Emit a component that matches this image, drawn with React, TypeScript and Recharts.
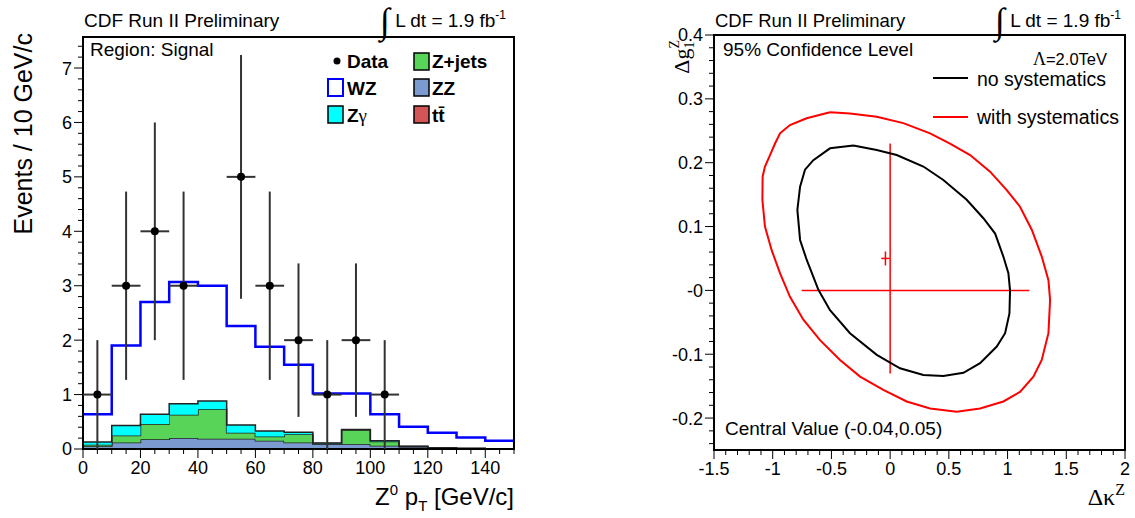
import React from 'react';
import {
  ComposedChart,
  Area,
  Scatter,
  ErrorBar,
  XAxis,
  YAxis,
  ReferenceArea,
  ReferenceLine,
} from 'recharts';

const FONT = '"Liberation Sans", Arial, Helvetica, sans-serif';
const SERIF = '"Liberation Serif", "Times New Roman", serif';

// ---- left panel: Z0 pT, 10 GeV/c bins (stacked MC, bottom to top) ----
const binEdges = [0, 10, 20, 30, 40, 50, 60, 70, 80, 90, 100, 110, 120, 130, 140, 150];
const ttbar = [0.01, 0.01, 0.01, 0.02, 0.02, 0.01, 0.01, 0.01, 0.01, 0.01, 0.01, 0.01, 0.005, 0.005, 0.003];
const zz = [0.04, 0.11, 0.17, 0.18, 0.17, 0.18, 0.14, 0.11, 0.08, 0.08, 0.05, 0.03, 0.015, 0.005, 0.002];
const zjets = [0.03, 0.13, 0.28, 0.43, 0.54, 0.11, 0.08, 0.15, 0.01, 0.26, 0.08, 0.005, 0, 0, 0];
const zgamma = [0.05, 0.18, 0.18, 0.2, 0.15, 0.14, 0.1, 0.04, 0.01, 0.01, 0.01, 0.005, 0, 0, 0];
const wz = [0.51, 1.47, 2.06, 2.24, 2.12, 1.82, 1.55, 1.24, 0.91, 0.66, 0.49, 0.36, 0.28, 0.2, 0.145];

const dataCenters = [5, 15, 25, 35, 45, 55, 65, 75, 85, 95, 105];
const dataCounts = [1, 3, 4, 3, 0, 5, 3, 2, 1, 2, 1];
const dataErrors = [1, 1.73, 2, 1.73, 0, 2.24, 1.73, 1.41, 1, 1.41, 1];

const ptLabels = ['0', '20', '40', '60', '80', '100', '120', '140'];
const eventLabels = ['0', '1', '2', '3', '4', '5', '6', '7'];

// ---- right panel: 95% CL contours in (dkappaZ, dg1Z) ----
const noSyst = [
  { x: -0.313, y: 0.227 }, { x: -0.512, y: 0.2225 }, { x: -0.654, y: 0.204 }, { x: -0.725, y: 0.189 },
  { x: -0.767, y: 0.1625 }, { x: -0.79, y: 0.126 }, { x: -0.767, y: 0.079 }, { x: -0.711, y: 0.048 },
  { x: -0.611, y: 0.001 }, { x: -0.512, y: -0.031 }, { x: -0.342, y: -0.067 }, { x: -0.114, y: -0.101 },
  { x: 0.084, y: -0.122 }, { x: 0.283, y: -0.1325 }, { x: 0.453, y: -0.134 }, { x: 0.624, y: -0.129 },
  { x: 0.766, y: -0.114 }, { x: 0.908, y: -0.088 }, { x: 0.979, y: -0.067 }, { x: 1.016, y: -0.036 },
  { x: 1.021, y: 0.0 }, { x: 1.007, y: 0.027 }, { x: 0.964, y: 0.053 }, { x: 0.894, y: 0.089 },
  { x: 0.794, y: 0.113 }, { x: 0.652, y: 0.142 }, { x: 0.453, y: 0.173 }, { x: 0.283, y: 0.194 },
  { x: 0.056, y: 0.212 }, { x: -0.114, y: 0.22 }, { x: -0.313, y: 0.227 },
];
const withSyst = [
  { x: -0.512, y: 0.279 }, { x: -0.711, y: 0.2695 }, { x: -0.853, y: 0.259 }, { x: -0.938, y: 0.246 },
  { x: -0.98, y: 0.23 }, { x: -1.023, y: 0.212 }, { x: -1.066, y: 0.194 }, { x: -1.086, y: 0.178 },
  { x: -1.088, y: 0.142 }, { x: -1.066, y: 0.1 }, { x: -1.009, y: 0.063 }, { x: -0.938, y: 0.027 },
  { x: -0.853, y: -0.01 }, { x: -0.739, y: -0.046 }, { x: -0.597, y: -0.078 }, { x: -0.427, y: -0.109 },
  { x: -0.256, y: -0.135 }, { x: -0.058, y: -0.156 }, { x: 0.141, y: -0.174 }, { x: 0.34, y: -0.185 },
  { x: 0.567, y: -0.19 }, { x: 0.766, y: -0.185 }, { x: 0.964, y: -0.174 }, { x: 1.106, y: -0.159 },
  { x: 1.22, y: -0.135 }, { x: 1.291, y: -0.109 }, { x: 1.348, y: -0.067 }, { x: 1.362, y: -0.015 },
  { x: 1.348, y: 0.016 }, { x: 1.291, y: 0.053 }, { x: 1.206, y: 0.095 }, { x: 1.106, y: 0.131 },
  { x: 0.993, y: 0.157 }, { x: 0.851, y: 0.186 }, { x: 0.681, y: 0.212 }, { x: 0.51, y: 0.23 },
  { x: 0.34, y: 0.246 }, { x: 0.112, y: 0.262 }, { x: -0.114, y: 0.272 }, { x: -0.342, y: 0.277 },
  { x: -0.512, y: 0.279 },
];
const smCrossH = [{ x: -0.753, y: 0 }, { x: 1.186, y: 0 }];
const smCrossV = [{ x: 0, y: 0.23 }, { x: 0, y: -0.13 }];
const centralValue = { x: -0.04, y: 0.05 };

const kappaTicks = [-1.5, -1, -0.5, 0, 0.5, 1, 1.5, 2];
const kappaLabels = ['-1.5', '-1', '-0.5', '0', '0.5', '1', '1.5', '2'];
const g1Ticks = [-0.2, -0.1, 0, 0.1, 0.2, 0.3, 0.4];
const g1Labels = ['-0.2', '-0.1', '-0', '0.1', '0.2', '0.3', '0.4'];

const C_TT = '#d45555';
const C_ZZ = '#7b9bd0';
const C_ZJ = '#58d558';
const C_ZG = '#00ffff';
const C_WZ = '#0000ff';

const histRows = binEdges.map((x, i) => {
  const k = Math.min(i, ttbar.length - 1);
  return { x, tt: ttbar[k], zz: zz[k], zj: zjets[k], zg: zgamma[k], wz: wz[k] };
});

const dataPoints = dataCenters
  .map((x, i) => ({ x, y: dataCounts[i], ey: dataErrors[i], ex: 5 }))
  .filter(d => d.y > 0);

function range(a: number, b: number, step: number) {
  const out: number[] = [];
  const n = Math.round((b - a) / step);
  for (let i = 0; i <= n; i++) out.push(+(a + i * step).toFixed(6));
  return out;
}

function findLabel(v: number, majors: number[], labels: string[]) {
  const i = majors.findIndex(m => Math.abs(m - v) < 1e-6);
  return i >= 0 ? labels[i] : null;
}

const makeYTick = (majors: number[], labels: string[]) => (p: any) => {
  const lab = findLabel(p.payload.value, majors, labels);
  const len = lab !== null ? 9 : 5;
  return (
    <g>
      <line x1={p.x} x2={p.x - len} y1={p.y} y2={p.y} stroke="#000" strokeWidth={1} />
      {lab !== null && (
        <text x={p.x - 11} y={p.y} dy="0.36em" textAnchor="end" fontSize={18} fontFamily={FONT} fill="#000">
          {lab}
        </text>
      )}
    </g>
  );
};

const makeXTick = (majors: number[], labels: string[]) => (p: any) => {
  const lab = findLabel(p.payload.value, majors, labels);
  const len = lab !== null ? 9 : 5;
  return (
    <g>
      <line x1={p.x} x2={p.x} y1={p.y} y2={p.y + len} stroke="#000" strokeWidth={1} />
      {lab !== null && (
        <text x={p.x} y={p.y + 25} textAnchor="middle" fontSize={18} fontFamily={FONT} fill="#000">
          {lab}
        </text>
      )}
    </g>
  );
};

const noShape = () => <g />;

function LumiText({ x, y }: { x: number; y: number }) {
  return (
    <text x={x} y={y} fontFamily={FONT} fontSize={19} fill="#000">
      <tspan fontFamily={SERIF} fontSize={36} dy={6}>∫</tspan>
      <tspan dy={-6}> L dt = 1.9 fb</tspan>
      <tspan fontSize={12} dy={-8}>-1</tspan>
    </text>
  );
}

function LeftPanel() {
  return (
    <div style={{ position: 'absolute', left: 0, top: 0 }}>
      <ComposedChart width={560} height={518} data={histRows} margin={{ top: 37, right: 46, bottom: 39, left: 23 }}>
        <XAxis
          dataKey="x"
          type="number"
          domain={[0, 150]}
          ticks={range(0, 150, 5)}
          interval={0}
          height={30}
          axisLine={false}
          tickLine={false}
          tickSize={0}
          tickMargin={0}
          tick={makeXTick(range(0, 140, 20), ptLabels)}
          allowDataOverflow
        />
        <YAxis
          type="number"
          domain={[0, 7.57]}
          ticks={range(0, 7.4, 0.2)}
          interval={0}
          width={60}
          axisLine={false}
          tickLine={false}
          tickSize={0}
          tickMargin={0}
          tick={makeYTick(range(0, 7, 1), eventLabels)}
          allowDataOverflow
        />
        <Area type="stepAfter" dataKey="tt" stackId="mc" fill={C_TT} fillOpacity={1} stroke="#222" strokeWidth={1.5} isAnimationActive={false} />
        <Area type="stepAfter" dataKey="zz" stackId="mc" fill={C_ZZ} fillOpacity={1} stroke="#222" strokeWidth={1.5} isAnimationActive={false} />
        <Area type="stepAfter" dataKey="zj" stackId="mc" fill={C_ZJ} fillOpacity={1} stroke="#222" strokeWidth={1.5} isAnimationActive={false} />
        <Area type="stepAfter" dataKey="zg" stackId="mc" fill={C_ZG} fillOpacity={1} stroke="#222" strokeWidth={1.5} isAnimationActive={false} />
        <Area type="stepAfter" dataKey="wz" stackId="mc" fill="none" stroke={C_WZ} strokeWidth={2.5} isAnimationActive={false} />
        <Scatter
          data={dataPoints}
          dataKey="y"
          fill="#000"
          shape={(p: any) => <circle cx={p.cx} cy={p.cy} r={4} fill="#000" />}
          isAnimationActive={false}
        >
          <ErrorBar dataKey="ey" direction="y" width={0} stroke="#333" strokeWidth={2} />
          <ErrorBar dataKey="ex" direction="x" width={0} stroke="#333" strokeWidth={2} />
        </Scatter>
        <ReferenceArea x1={0} x2={150} y1={0} y2={7.57} fill="none" stroke="#000" strokeWidth={2} ifOverflow="visible" />
      </ComposedChart>
    </div>
  );
}

function RightPanel() {
  return (
    <div style={{ position: 'absolute', left: 600, top: 0 }}>
      <ComposedChart width={535} height={518} margin={{ top: 35, right: 10, bottom: 38, left: 54 }}>
        <XAxis
          dataKey="x"
          type="number"
          domain={[-1.5, 2]}
          ticks={range(-1.5, 2, 0.1)}
          interval={0}
          height={30}
          axisLine={false}
          tickLine={false}
          tickSize={0}
          tickMargin={0}
          tick={makeXTick(kappaTicks, kappaLabels)}
          allowDataOverflow
        />
        <YAxis
          dataKey="y"
          type="number"
          domain={[-0.25, 0.4]}
          ticks={range(-0.24, 0.4, 0.02)}
          interval={0}
          width={60}
          axisLine={false}
          tickLine={false}
          tickSize={0}
          tickMargin={0}
          tick={makeYTick(g1Ticks, g1Labels)}
          allowDataOverflow
        />
        <ReferenceLine segment={smCrossH} stroke="#ff0000" strokeWidth={1.5} ifOverflow="visible" />
        <ReferenceLine segment={smCrossV} stroke="#ff0000" strokeWidth={1.5} ifOverflow="visible" />
        <ReferenceLine
          segment={[{ x: centralValue.x - 0.035, y: centralValue.y }, { x: centralValue.x + 0.035, y: centralValue.y }]}
          stroke="#ff0000"
          strokeWidth={1.5}
        />
        <ReferenceLine
          segment={[{ x: centralValue.x, y: centralValue.y - 0.011 }, { x: centralValue.x, y: centralValue.y + 0.011 }]}
          stroke="#ff0000"
          strokeWidth={1.5}
        />
        <Scatter data={withSyst} fill="#ff0000" line={{ stroke: '#ff0000', strokeWidth: 2 }} lineType="joint" shape={noShape} isAnimationActive={false} />
        <Scatter data={noSyst} fill="#000" line={{ stroke: '#000', strokeWidth: 2 }} lineType="joint" shape={noShape} isAnimationActive={false} />
        <ReferenceArea x1={-1.5} x2={2} y1={-0.25} y2={0.4} fill="none" stroke="#000" strokeWidth={2} ifOverflow="visible" />
      </ComposedChart>
    </div>
  );
}

function Overlay() {
  const legendBox = (x: number, y: number, fill: string, stroke = '#000', sw = 1.5) => (
    <rect x={x} y={y} width={15} height={17} fill={fill} stroke={stroke} strokeWidth={sw} />
  );
  return (
    <svg width={1135} height={518} style={{ position: 'absolute', left: 0, top: 0, pointerEvents: 'none' }}>
      {/* left panel texts */}
      <text x={84} y={27} fontFamily={FONT} fontSize={19}>CDF Run II Preliminary</text>
      <LumiText x={380} y={27} />
      <text x={90} y={56} fontFamily={FONT} fontSize={19}>Region: Signal</text>
      <g fontFamily={FONT} fontSize={19} fontWeight="bold">
        <circle cx={337} cy={61} r={3.5} fill="#000" />
        <text x={347} y={68}>Data</text>
        {legendBox(414, 53, C_ZJ)}
        <text x={432} y={68}>Z+jets</text>
        {legendBox(328, 79, '#fff', C_WZ, 2)}
        <text x={347} y={95}>WZ</text>
        {legendBox(414, 79, C_ZZ)}
        <text x={432} y={95}>ZZ</text>
        {legendBox(328, 106, C_ZG)}
        <text x={347} y={122}>Z<tspan fontFamily={SERIF} fontWeight="normal">γ</tspan></text>
        {legendBox(414, 106, C_TT)}
        <text x={432} y={122}>t{'t\u0304'}</text>
      </g>
      <text x={32} y={33} transform="rotate(-90, 32, 33)" textAnchor="end" fontFamily={FONT} fontSize={25}>
        Events / 10 GeV/c
      </text>
      <text x={514} y={505} textAnchor="end" fontFamily={FONT} fontSize={24}>
        Z<tspan fontSize={15} dy={-10}>0</tspan>
        <tspan dy={10}> p</tspan>
        <tspan fontSize={15} dy={6}>T</tspan>
        <tspan dy={-6}> [GeV/c]</tspan>
      </text>

      {/* right panel texts */}
      <text x={715} y={27} fontFamily={FONT} fontSize={18.5}>CDF Run II Preliminary</text>
      <LumiText x={995} y={27} />
      <text x={723} y={56} fontFamily={FONT} fontSize={19}>95% Confidence Level</text>
      <text x={1107} y={65} textAnchor="end" fontFamily={FONT} fontSize={16.5}>
        <tspan fontFamily={SERIF} fontSize={18}>Λ</tspan>=2.0TeV
      </text>
      <line x1={933} x2={968} y1={78} y2={78} stroke="#000" strokeWidth={2} />
      <text x={977} y={86} fontFamily={FONT} fontSize={19.5}>no systematics</text>
      <line x1={933} x2={968} y1={117} y2={117} stroke="#ff0000" strokeWidth={2} />
      <text x={977} y={124} fontFamily={FONT} fontSize={19.5}>with systematics</text>
      <text x={725} y={435} fontFamily={FONT} fontSize={19}>Central Value (-0.04,0.05)</text>
      <text x={689} y={40} transform="rotate(-90, 689, 40)" textAnchor="end" fontFamily={SERIF} fontSize={22}>
        Δg<tspan fontSize={14} dy={5}>1</tspan>
        <tspan fontSize={14} dx={-7} dy={-15}>Z</tspan>
      </text>
      <text x={1125} y={505} textAnchor="end" fontFamily={SERIF} fontSize={24}>
        Δκ<tspan fontSize={16} dy={-10}>Z</tspan>
      </text>
    </svg>
  );
}

export default function App() {
  return (
    <div style={{ position: 'absolute', left: 0, top: 0, width: 1135, height: 518, background: '#fff', overflow: 'hidden' }}>
      <LeftPanel />
      <RightPanel />
      <Overlay />
    </div>
  );
}
